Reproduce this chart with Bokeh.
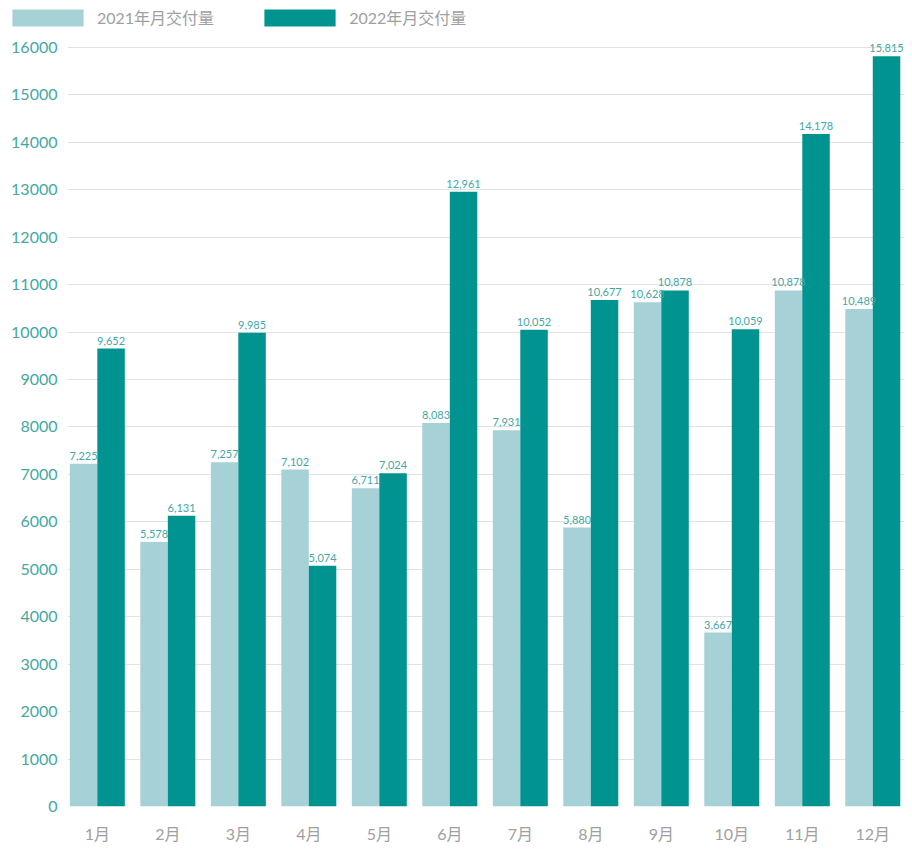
from bokeh.plotting import figure
from bokeh.embed import file_html
from bokeh.resources import INLINE
from bokeh.layouts import column, row
from bokeh.models import ColumnDataSource, FixedTicker, Legend, LegendItem, NumeralTickFormatter
from bokeh.core.properties import value
import numpy as np

# datos del gráfico
months = ["1月", "2月", "3月", "4月", "5月", "6月", "7月", "8月", "9月", "10月", "11月", "12月"]
deliveries_2021 = [7225, 5578, 7257, 7102, 6711, 8083, 7931, 5880, 10628, 3667, 10878, 10489]
deliveries_2022 = [9652, 6131, 9985, 5074, 7024, 12961, 10052, 10677, 10878, 10059, 14178, 15815]
y_ticks = [0, 1000, 2000, 3000, 4000, 5000, 6000, 7000, 8000, 9000, 10000,
           11000, 12000, 13000, 14000, 15000, 16000]
series_names = ["2021年月交付量", "2022年月交付量"]

LIGHT = "#a6d1d7"
DARK = "#00938f"
TEAL_TEXT = "#45a7a2"
GRAY_TEXT = "#a0a0a0"
FONT = "Lato, 'Noto Sans CJK SC', sans-serif"

bar_w = 0.39
x = np.arange(len(months))

source = ColumnDataSource(dict(
    x21=x - bar_w / 2,
    x22=x + bar_w / 2,
    y21=deliveries_2021,
    y22=deliveries_2022,
    lab21=["{:,}".format(v) for v in deliveries_2021],
    lab22=["{:,}".format(v) for v in deliveries_2022],
))

# gráfico principal
p = figure(width=904, height=815,
           x_range=(-0.423, 11.45), y_range=(0, 16358),
           output_backend="svg", toolbar_location=None,
           min_border_left=67, min_border_right=0,
           min_border_top=0, min_border_bottom=39)
p.outline_line_color = None

p.vbar(x="x21", top="y21", width=bar_w, source=source,
       fill_color=LIGHT, line_color=None)
p.vbar(x="x22", top="y22", width=bar_w, source=source,
       fill_color=DARK, line_color=None)

# etiquetas sobre las barras
for xc, yc, lab in [("x21", "y21", "lab21"), ("x22", "y22", "lab22")]:
    p.text(x=xc, y=yc, text=lab, source=source, y_offset=-4,
           text_align="center", text_baseline="bottom",
           text_font=value(FONT), text_font_size="11px", text_color=TEAL_TEXT)

# eje x
p.xaxis.ticker = FixedTicker(ticks=list(x))
p.xaxis.major_label_overrides = {int(i): m for i, m in zip(x, months)}
p.xaxis.axis_line_color = None
p.xaxis.major_tick_line_color = None
p.xaxis.minor_tick_line_color = None
p.xaxis.major_tick_out = 0
p.xaxis.minor_tick_out = 0
p.xaxis.major_label_standoff = 17
p.xaxis.major_label_text_font = FONT
p.xaxis.major_label_text_font_size = "16px"
p.xaxis.major_label_text_color = GRAY_TEXT
p.xgrid.grid_line_color = None

# eje y
p.yaxis.ticker = FixedTicker(ticks=y_ticks)
p.yaxis.formatter = NumeralTickFormatter(format="0")
p.yaxis.axis_line_color = None
p.yaxis.major_tick_line_color = None
p.yaxis.minor_tick_line_color = None
p.yaxis.major_tick_out = 0
p.yaxis.minor_tick_out = 0
p.yaxis.major_label_standoff = 10
p.yaxis.major_label_text_font = FONT
p.yaxis.major_label_text_font_size = "16px"
p.yaxis.major_label_text_color = TEAL_TEXT
p.ygrid.grid_line_color = "#e2e2e2"
p.ygrid.grid_line_width = 1

# franja de la leyenda (arriba); glifos de muestra fuera del rango visible
leg = figure(width=904, height=30, x_range=(0, 1), y_range=(0, 1),
             output_backend="svg", toolbar_location=None,
             x_axis_location=None, y_axis_location=None,
             min_border=0)
leg.outline_line_color = None
leg.xgrid.grid_line_color = None
leg.ygrid.grid_line_color = None
g21 = leg.vbar(x=[5], top=[5], bottom=[4], width=0.1, fill_color=LIGHT, line_color=None)
g22 = leg.vbar(x=[5], top=[5], bottom=[4], width=0.1, fill_color=DARK, line_color=None)

# bokeh dibuja el glifo de barra con un 10% de margen: el área es algo mayor
legend = Legend(items=[LegendItem(label=series_names[0], renderers=[g21]),
                       LegendItem(label=series_names[1], renderers=[g22])],
                orientation="horizontal", location=(3, 1),
                glyph_width=89, glyph_height=21, label_height=21,
                label_standoff=5, spacing=41, padding=0, margin=0,
                border_line_color=None, background_fill_alpha=0,
                label_text_font=FONT, label_text_font_size="16px",
                label_text_color=GRAY_TEXT)
leg.add_layout(legend, "center")

# la fila evita que el marco de la leyenda se alinee con el del gráfico
layout = column(row(leg), p, spacing=0)

open("out.html", "w").write(file_html(layout, INLINE))
